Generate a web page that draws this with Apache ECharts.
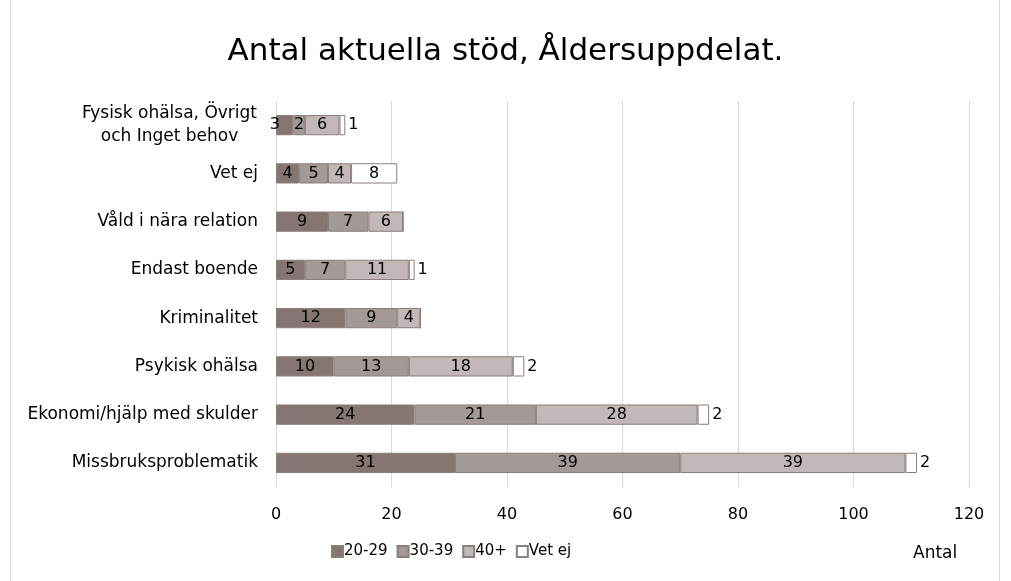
<!DOCTYPE html>
<html>
<head>
<meta charset="utf-8">
<script src="https://cdn.jsdelivr.net/npm/echarts@6/dist/echarts.min.js"></script>
<style>
  html, body { margin: 0; padding: 0; background: #fff; }
  #main { width: 1011px; height: 581px; }
</style>
</head>
<body>
<div id="main"></div>
<script>
// kategorier, nerifrån och upp
let categories = [
  'Missbruksproblematik',
  'Ekonomi/hjälp med skulder',
  'Psykisk ohälsa',
  'Kriminalitet',
  'Endast boende',
  'Våld i nära relation',
  'Vet ej',
  'Fysisk ohälsa, Övrigt\noch Inget behov'
]
let age2029 = [31, 24, 10, 12, 5, 9, 4, 3]
let age3039 = [39, 21, 13, 9, 7, 7, 5, 2]
let age40 = [39, 28, 18, 4, 11, 6, 4, 6]
let vetEj = [2, 2, 2, 0, 1, 0, 8, 1]
let xTicks = [0, 20, 40, 60, 80, 100, 120]

let font = 'DejaVu Sans'
let border = '#8C7E7C'

function makeSeries (name, data, color) {
  return {
    name: name,
    type: 'bar',
    stack: 'total',
    barWidth: '42%',
    itemStyle: { color: color, borderColor: border, borderWidth: 1 },
    label: {
      show: true,
      position: 'inside',
      color: '#000',
      fontFamily: font,
      fontSize: 16,
      formatter: p => p.value === 0 ? '' : p.value
    },
    data: data.map(v => {
      // små värden i "Vet ej" hamnar utanför stapeln
      if (name === 'Vet ej' && v > 0 && v <= 2) {
        return { value: v, label: { position: 'right', distance: 3 } }
      }
      if (name === '20-29' && v <= 3) {
        return { value: v, label: { position: 'left', distance: -4 } }
      }
      return v
    })
  }
}

let option = {
  animation: false,
  title: {
    text: 'Antal aktuella stöd, Åldersuppdelat.',
    left: 'center',
    top: 31,
    textStyle: { fontFamily: font, fontSize: 31, fontWeight: 'normal', color: '#000' }
  },
  legend: {
    data: ['20-29', '30-39', '40+', 'Vet ej'],
    left: 326,
    top: 539,
    itemWidth: 11,
    itemHeight: 11,
    itemGap: 9,
    icon: 'rect',
    textStyle: { fontFamily: font, fontSize: 15, color: '#000', padding: [0, 0, 0, -4] }
  },
  grid: {
    left: 276,
    right: 42,
    top: 101,
    bottom: 94
  },
  xAxis: {
    type: 'value',
    min: xTicks[0],
    max: xTicks[xTicks.length - 1],
    interval: 20,
    name: 'Antal',
    nameLocation: 'end',
    nameGap: 0,
    nameTextStyle: { fontFamily: font, fontSize: 17, color: '#000', padding: [58, 0, 0, -56], verticalAlign: 'top' },
    axisLine: { show: false },
    axisTick: { show: false },
    axisLabel: { fontFamily: font, fontSize: 16, color: '#000', margin: 20 },
    splitLine: { lineStyle: { color: '#D9D9D9', width: 1 } }
  },
  yAxis: {
    type: 'category',
    data: categories,
    axisLine: { show: false },
    axisTick: { show: false },
    axisLabel: {
      fontFamily: font,
      fontSize: 17,
      color: '#000',
      margin: 18,
      lineHeight: 23,
      formatter: v => v.indexOf('\n') >= 0 ? v.split('\n').map(s => '{c|' + s + '}').join('\n') : v,
      rich: { c: { width: 177, align: 'center', fontFamily: font, fontSize: 17, lineHeight: 23, color: '#000' } }
    }
  },
  graphic: [{
    type: 'rect',
    shape: { x: 10.5, y: -5, width: 989, height: 600 },
    style: { fill: 'none', stroke: '#D9D9D9', lineWidth: 1 }
  }],
  series: [
    makeSeries('20-29', age2029, '#857672'),
    makeSeries('30-39', age3039, '#A39997'),
    makeSeries('40+', age40, '#C2B8B7'),
    makeSeries('Vet ej', vetEj, '#FFFFFF')
  ]
}

let myChart = echarts.init(document.getElementById('main'))
myChart.setOption(option)
</script>
</body>
</html>
